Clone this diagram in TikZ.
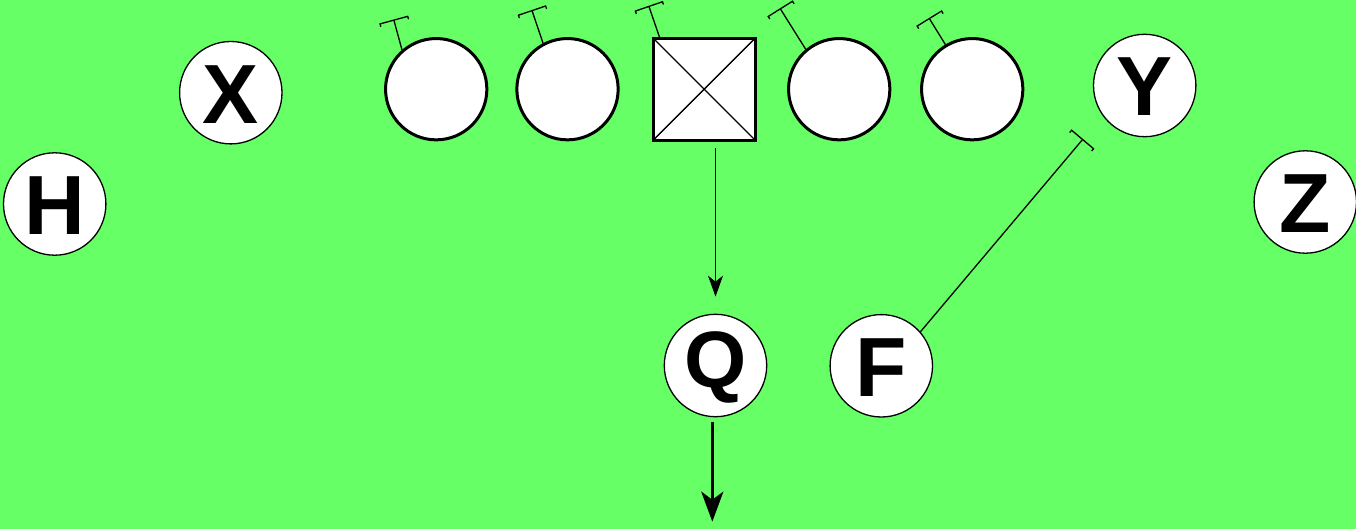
\documentclass[tikz,border=0pt]{standalone}
\usepackage{fontspec}
\setmainfont{Liberation Sans}
\usetikzlibrary{arrows.meta}
\definecolor{field}{RGB}{102,255,102}
\begin{document}
\begin{tikzpicture}[x=1pt,y=-1pt,
  player/.style={circle,draw=black,fill=white,line width=1.3pt,minimum size=102.4pt,inner sep=0pt,
    font=\fontsize{84}{84}\selectfont\bfseries,text height=61pt,text depth=0pt},
  lineman/.style={circle,draw=black,fill=white,line width=3pt,minimum size=101.3pt,inner sep=0pt},
  snapbox/.style={rectangle,draw=black,fill=white,line width=3pt,minimum size=102pt,inner sep=0pt,outer sep=0pt},
  xline/.style={line width=1.3pt},
  block/.style={line width=1.3pt,-{Bracket[width=30pt,length=3pt]}},
  route/.style={line width=1.4pt,-{Stealth[length=21pt,width=15pt,inset=6pt]}},
  qrun/.style={line width=3.5pt,-{Stealth[length=30pt,width=22pt,inset=8pt]}}]
\useasboundingbox (0,0) rectangle (1356,529);
\fill[field] (0,0) rectangle (1356,529);

% skill players
\node[player] (H) at (54.7,204) {H};
\node[player] (X) at (230.8,92.7) {X};
\node[player] (Y) at (1144.7,85.5) {Y};
\node[player] (Z) at (1305.3,202) {Z};
\node[player,font=\fontsize{80}{80}\selectfont\bfseries,text height=58pt,text depth=15pt] (Q) at (715.5,365.5) {Q};
\node[player] (F) at (881.3,365.8) {F};

% line
\node[lineman] (L1) at (436.2,89.2) {};
\node[lineman] (L2) at (567.5,89.2) {};
\node[snapbox] (S) at (704.2,89.2) {};
\node[lineman] (L4) at (839.2,89.2) {};
\node[lineman] (L5) at (972.2,89.2) {};
\draw[xline] (S.north west) -- (S.south east);
\draw[xline] (S.north east) -- (S.south west);

% block targets
\coordinate (b1) at (393.7,19.5);
\coordinate (b2) at (531.8,10);
\coordinate (b3) at (648.7,5.8);
\coordinate (b4) at (780,8.3);
\coordinate (b5) at (929,18);
\coordinate (bf) at (1083,139);
\coordinate (qe) at (712.3,521.7);

\draw[block] (L1.131) -- (b1);
\draw[block] (L2.118) -- (b2);
\draw[block] (S.131) -- (b3);
\draw[block] (L4.130) -- (b4);
\draw[block] (L5.121) -- (b5);
\draw[block] (F.41) -- (bf);

% snap and run
\draw[route,shorten <=8pt,shorten >=17pt] (S.south -| Q.north) -- (Q.north);
\draw[qrun,shorten <=4.3pt] (Q.south -| qe) -- (qe);
\end{tikzpicture}
\end{document}
